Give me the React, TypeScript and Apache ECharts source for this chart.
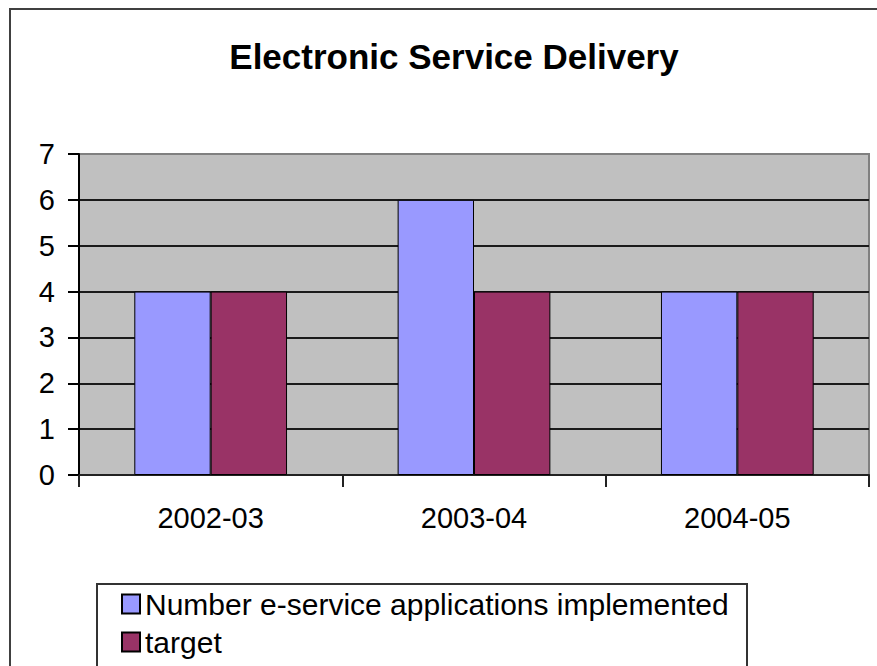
import React, { useEffect, useRef } from "react";
import * as echarts from "echarts";

const categories = ["2002-03", "2003-04", "2004-05"];
const implementedValues = [4, 6, 4];
const targetValues = [4, 4, 4];
const seriesNames = ["Number e-service applications implemented", "target"];
const titleText = "Electronic Service Delivery";

export default function App() {
  const ref = useRef<HTMLDivElement>(null);
  useEffect(() => {
    if (!ref.current) return;
    const chart = echarts.init(ref.current, undefined, { renderer: "svg" });
    const font = "'Liberation Sans', Arial, sans-serif";
    chart.setOption({
      animation: false,
      backgroundColor: "#ffffff",
      textStyle: { fontFamily: font },
      grid: {
        left: 79,
        right: 8,
        top: 154,
        bottom: 191,
        show: true,
        backgroundColor: "#C0C0C0",
        borderColor: "#808080",
        borderWidth: 2,
      },
      graphic: [
        {
          type: "polyline",
          shape: { points: [[10, 666], [10, 9], [877, 9]] },
          style: { fill: "none", stroke: "#404040", lineWidth: 2 },
          silent: true,
          z: -10,
        },
        {
          type: "polyline",
          shape: { points: [[97, 666], [97, 584], [747, 584], [747, 666]] },
          style: { fill: "none", stroke: "#333333", lineWidth: 2 },
          silent: true,
          z: -5,
        },
        {
          type: "text",
          x: 454,
          y: 56,
          style: {
            text: titleText,
            fontFamily: font,
            fontSize: 35,
            fontWeight: "bold",
            fill: "#000000",
            textAlign: "center",
            textVerticalAlign: "middle",
          },
        },
      ],
      legend: {
        orient: "vertical",
        left: 121,
        top: 589,
        padding: 0,
        itemGap: 8,
        itemWidth: 18,
        itemHeight: 19,
        icon: "rect",
        textStyle: { fontFamily: font, fontSize: 30, color: "#000000" },
        data: seriesNames,
        z: 10,
      },
      xAxis: {
        type: "category",
        data: categories,
        boundaryGap: true,
        axisLine: { show: true, lineStyle: { color: "#222222", width: 2 } },
        axisTick: { show: true, length: 12, alignWithLabel: false, lineStyle: { color: "#222222", width: 2 } },
        axisLabel: { margin: 28, fontFamily: font, fontSize: 29, color: "#000000" },
        splitLine: { show: false },
      },
      yAxis: {
        type: "value",
        min: 0,
        max: 7,
        interval: 1,
        axisLine: { show: true, lineStyle: { color: "#000000", width: 2 } },
        axisTick: { show: true, length: 11, lineStyle: { color: "#000000", width: 2 } },
        axisLabel: { margin: 24, fontFamily: font, fontSize: 29, color: "#000000" },
        splitLine: {
          show: true,
          lineStyle: {
            width: 2,
            color: ["#1a1a1a", "#1a1a1a", "#1a1a1a", "#1a1a1a", "#1a1a1a", "#1a1a1a", "#1a1a1a", "#808080"],
          },
        },
      },
      series: [
        {
          name: seriesNames[0],
          type: "bar",
          data: implementedValues,
          barGap: "0%",
          barCategoryGap: "42%",
          itemStyle: { color: "#9999FF", borderColor: "#000000", borderWidth: 1 },
        },
        {
          name: seriesNames[1],
          type: "bar",
          data: targetValues,
          barGap: "0%",
          barCategoryGap: "42%",
          itemStyle: { color: "#993366", borderColor: "#000000", borderWidth: 1 },
        },
      ],
    });
    return () => chart.dispose();
  }, []);
  return (
    <div
      ref={ref}
      style={{ position: "fixed", left: 0, top: 0, width: 877, height: 666 }}
    />
  );
}
